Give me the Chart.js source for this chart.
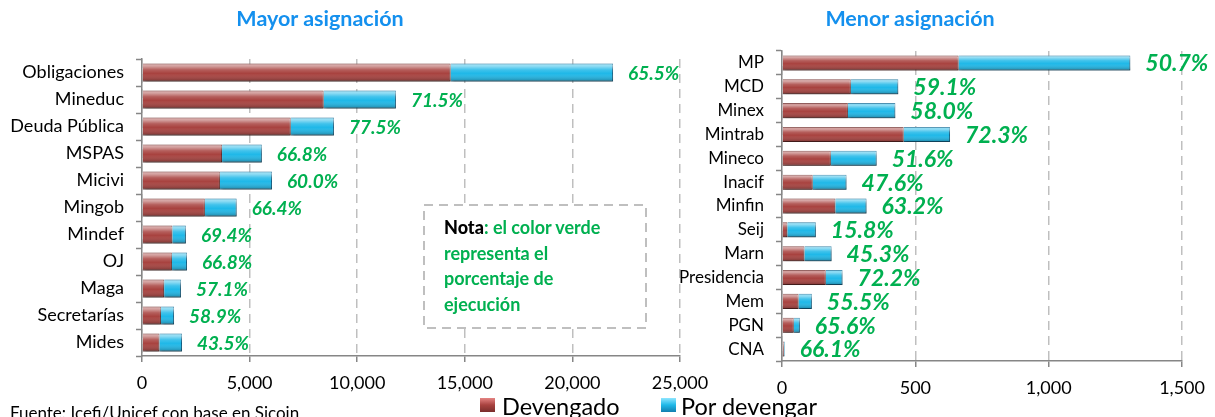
<!DOCTYPE html>
<html>
<head>
<meta charset="utf-8">
<script src="https://cdn.jsdelivr.net/npm/chart.js@4.4.0/dist/chart.umd.min.js"></script>
<style>
body{margin:0;width:1215px;height:417px;overflow:hidden;background:#fff;position:relative;font-family:Lato,sans-serif}
canvas{position:absolute;left:0;top:0}
.title{position:absolute;top:5px;font-weight:bold;font-size:21.5px;color:#1490EE;transform:translateX(-50%);white-space:nowrap}
.nota{position:absolute;left:444px;top:215px;font-weight:bold;font-size:18px;line-height:25.5px;color:#00B050}
.nota b{color:#000}
.fuente{position:absolute;left:10px;top:402px;font-size:17px;color:#000;white-space:nowrap}
.leg{position:absolute;top:392px;font-size:23.5px;color:#000;white-space:nowrap}
.sq{position:absolute;top:398px;width:15px;height:14px}
</style>
</head>
<body>
<canvas id="mayor" width="1215" height="417"></canvas>
<canvas id="menor" width="1215" height="417"></canvas>
<div class="title" style="left:320px">Mayor asignación</div>
<div class="title" style="left:910px">Menor asignación</div>
<svg style="position:absolute;left:0;top:0" width="1215" height="417">
  <rect x="424" y="205" width="222" height="123" fill="#fff" stroke="#BFBFBF" stroke-width="2" stroke-dasharray="9,6"/>
</svg>
<div class="nota"><b>Nota</b>: el color verde<br>representa el<br>porcentaje de<br>ejecución</div>
<div class="fuente">Fuente: Icefi/Unicef con base en Sicoin</div>
<div class="sq" style="left:480px;background:linear-gradient(#E58483,#A8423F 50%,#7A2E2C)"></div>
<div class="leg" style="left:502px">Devengado</div>
<div class="sq" style="left:661px;background:linear-gradient(#8FE6FF,#1FB8E8 50%,#127FB0)"></div>
<div class="leg" style="left:681px">Por devengar</div>
<script>
// millones de quetzales
var catMayor = ["Obligaciones","Mineduc","Deuda Pública","MSPAS","Micivi","Mingob","Mindef","OJ","Maga","Secretarías","Mides"];
var devMayor = [14340, 8440, 6910, 3720, 3620, 2920, 1410, 1390, 1030, 880, 810];
var porMayor = [7550, 3360, 2010, 1850, 2420, 1480, 630, 700, 780, 610, 1050];
var pctMayor = [65.5, 71.5, 77.5, 66.8, 60.0, 66.4, 69.4, 66.8, 57.1, 58.9, 43.5];

var catMenor = ["MP","MCD","Minex","Mintrab","Mineco","Inacif","Minfin","Seij","Marn","Presidencia","Mem","PGN","CNA"];
var devMenor = [662, 258, 247, 456, 183, 115, 200, 20, 84, 164, 62, 44, 7];
var porMenor = [644, 178, 178, 174, 172, 127, 117, 107, 102, 63, 50, 23, 3];
var pctMenor = [50.7, 59.1, 58.0, 72.3, 51.6, 47.6, 63.2, 15.8, 45.3, 72.2, 55.5, 65.6, 66.1];

var rojo = '#A8423F', azul = '#1FB8E8';

// bisel y sombra para dar el efecto 3D
var bevel = {
    id: 'bevel',
    beforeDatasetDraw: function(chart) {
        var ctx = chart.ctx;
        ctx.save();
        ctx.shadowColor = 'rgba(0,0,0,0.35)';
        ctx.shadowBlur = 3;
        ctx.shadowOffsetX = 1;
        ctx.shadowOffsetY = 2;
    },
    afterDatasetDraw: function(chart, args) {
        var ctx = chart.ctx;
        ctx.restore();
        args.meta.data.forEach(function(bar) {
            var p = bar.getProps(['x','y','base','height'], true);
            var l = Math.min(p.x, p.base), r = Math.max(p.x, p.base);
            var t = p.y - p.height / 2, h = p.height;
            if (r - l < 1) return;
            var g = ctx.createLinearGradient(0, t, 0, t + h);
            g.addColorStop(0, 'rgba(255,255,255,0.2)');
            g.addColorStop(0.12, 'rgba(255,255,255,0.55)');
            g.addColorStop(0.35, 'rgba(255,255,255,0.15)');
            g.addColorStop(0.55, 'rgba(255,255,255,0)');
            g.addColorStop(1, 'rgba(0,0,0,0.3)');
            ctx.fillStyle = g;
            ctx.fillRect(l, t, r - l, h);
        });
    }
};

// porcentaje de ejecucion al final de cada barra
function pctLabels(pcts, size) {
    return {
        id: 'pct',
        afterDatasetsDraw: function(chart) {
            var ctx = chart.ctx;
            var meta = chart.getDatasetMeta(1);
            ctx.save();
            ctx.font = 'italic bold ' + size + 'px Lato, sans-serif';
            ctx.fillStyle = '#00B050';
            ctx.textAlign = 'left';
            ctx.textBaseline = 'middle';
            meta.data.forEach(function(bar, i) {
                ctx.fillText(pcts[i].toFixed(1) + '%', bar.x + 15, bar.y + 1);
            });
            ctx.restore();
        }
    };
}

function makeChart(id, cats, dev, por, pcts, max, step, pad, yWidth, fontY, fontPct, catPct) {
    new Chart(document.getElementById(id), {
        type: 'bar',
        data: {
            labels: cats,
            datasets: [
                {label: 'Devengado', data: dev, backgroundColor: rojo, borderColor: '#6E2826', borderWidth: 1},
                {label: 'Por devengar', data: por, backgroundColor: azul, borderColor: '#136E99', borderWidth: 1}
            ]
        },
        options: {
            indexAxis: 'y',
            responsive: false,
            animation: false,
            locale: 'en-US',
            layout: {padding: pad},
            barPercentage: 1,
            categoryPercentage: catPct,
            plugins: {legend: {display: false}, tooltip: {enabled: false}},
            scales: {
                x: {
                    stacked: true, min: 0, max: max,
                    afterFit: function(s) { s.height = 40; },
                    ticks: {stepSize: step, color: '#000', padding: 10, font: {family: 'Lato', size: 18}},
                    grid: {color: '#BFBFBF', lineWidth: 1.5, tickColor: '#868686', tickLength: 6, tickWidth: 1.5},
                    border: {color: '#868686', width: 1.5, dash: [9, 6]}
                },
                y: {
                    stacked: true,
                    afterFit: function(s) { s.width = yWidth; },
                    ticks: {color: '#000', padding: 12, font: {family: 'Lato', size: fontY}},
                    grid: {drawOnChartArea: false, tickColor: '#868686', tickLength: 6, tickWidth: 1.5},
                    border: {color: '#868686', width: 1.5}
                }
            }
        },
        plugins: [bevel, pctLabels(pcts, fontPct)]
    });
}

makeChart('mayor', catMayor, devMayor, porMayor, pctMayor, 25000, 5000,
    {left: 0, top: 59, right: 535, bottom: 21}, 142, 18, 19, 0.67);
makeChart('menor', catMenor, devMenor, porMenor, pctMenor, 1500, 500,
    {left: 0, top: 51, right: 31, bottom: 16}, 782, 17, 23, 0.63);
</script>
</body>
</html>
